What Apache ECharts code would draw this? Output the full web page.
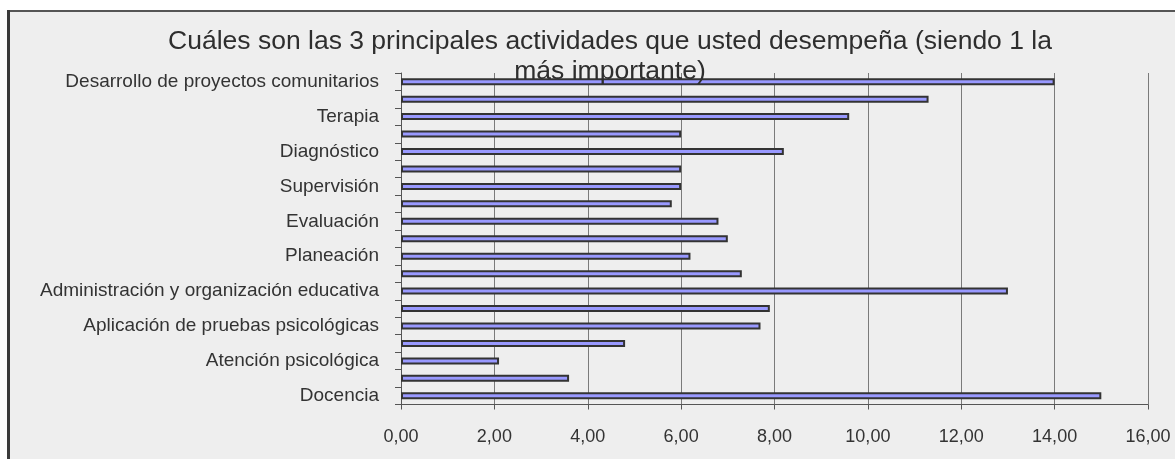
<!DOCTYPE html>
<html>
<head>
<meta charset="utf-8">
<script src="https://cdn.jsdelivr.net/npm/echarts@6/dist/echarts.min.js"></script>
<style>html,body{margin:0;padding:0;background:#fff}#c{width:1175px;height:459px}</style>
</head>
<body>
<div id="c"></div>
<script>
// Categories from bottom to top (unlabeled rows in the original have no visible name)
const categories = [
  'Docencia', '', 'Atención psicológica', '', 'Aplicación de pruebas psicológicas', '',
  'Administración y organización educativa', '', 'Planeación', '', 'Evaluación', '',
  'Supervisión', '', 'Diagnóstico', '', 'Terapia', '', 'Desarrollo de proyectos comunitarios'
];
const values = [15.0, 3.6, 2.1, 4.8, 7.7, 7.9, 13.0, 7.3, 6.2, 7.0, 6.8, 5.8, 6.0, 6.0, 8.2, 6.0, 9.6, 11.3, 14.0];
const titleText = 'Cuáles son las 3 principales actividades que usted desempeña (siendo 1 la\nmás importante)';
const xTicks = { min: 0, max: 16, step: 2 };

const FONT = 'Liberation Sans, Arial, sans-serif';
const chart = echarts.init(document.getElementById('c'), null, { renderer: 'canvas' });
chart.setOption({
  backgroundColor: '#ffffff',
  animation: false,
  graphic: [
    { type: 'rect', z: -10, shape: { x: 9, y: 11, width: 1200, height: 500 },
      style: { fill: '#eeeeee', stroke: '#555555', lineWidth: 2 } },
    { type: 'rect', z: -9, shape: { x: 7, y: 10, width: 3, height: 500 },
      style: { fill: '#3a3a3a' } },
    { type: 'text', z: 100, x: 610, y: 27,
      style: { text: titleText, font: 'normal 26.5px ' + FONT, fill: '#2e2e2e',
               align: 'center', lineHeight: 30 } }
  ],
  grid: { left: 401, right: 27, top: 73, bottom: 54.5, containLabel: false },
  xAxis: {
    type: 'value', min: xTicks.min, max: xTicks.max, interval: xTicks.step,
    axisLine: { show: true, lineStyle: { color: '#555555', width: 1 } },
    axisTick: { show: true, length: 5, lineStyle: { color: '#555555' } },
    splitLine: { show: true, lineStyle: { color: '#7a7a7a', width: 1 } },
    axisLabel: { fontSize: 18, fontFamily: FONT, color: '#333333', margin: 24,
                 formatter: v => v.toFixed(2).replace('.', ',') }
  },
  yAxis: {
    type: 'category', data: categories, boundaryGap: true,
    axisLine: { show: true, lineStyle: { color: '#555555', width: 1 } },
    axisTick: { show: true, interval: 0, length: 6, lineStyle: { color: '#555555' } },
    splitLine: { show: false },
    axisLabel: { interval: 0, fontSize: 19, fontFamily: FONT, color: '#333333', margin: 22 }
  },
  series: [{
    type: 'bar', data: values, barWidth: 7,
    itemStyle: { color: '#9999ff', borderColor: '#333333', borderWidth: 2 }
  }]
});
</script>
</body>
</html>
